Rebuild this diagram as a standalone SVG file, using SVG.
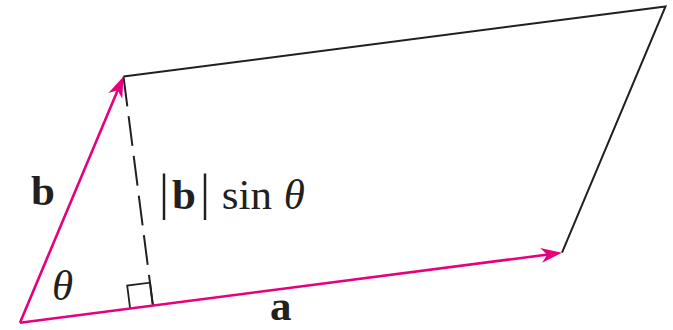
<svg xmlns="http://www.w3.org/2000/svg" width="673" height="330" viewBox="0 0 673 330">
<style>
.vec{stroke:#e6007e;stroke-width:2.6;fill:none;marker-end:url(#ah)}
.edge{stroke:#231f20;stroke-width:2;fill:none;stroke-linejoin:miter}
.dash{stroke:#231f20;stroke-width:2;fill:none;stroke-dasharray:30 10}
.lbl{font-family:"Liberation Serif","Times New Roman",serif;font-size:43px;fill:#231f20}
.bold{font-weight:bold}
.ital{font-style:italic}
</style>
<defs>
<marker id="ah" viewBox="-22 -8 24 16" markerWidth="24" markerHeight="16" refX="-10" refY="0" markerUnits="userSpaceOnUse" orient="auto">
<path d="M0,0 L-21,-7.5 L-15,0 L-21,7.5 Z" fill="#e6007e"/>
</marker>
</defs>
<rect width="673" height="330" fill="#ffffff"/>
<g id="connectors">
<path class="edge" d="M123.5,76.5 L665.5,6.5 L562,252.7"/>
<line class="dash" x1="123.5" y1="76.5" x2="152.9" y2="305.5"/>
<polyline class="edge" style="stroke-width:1.8" points="130.1,308.4 127.2,285.6 150,282.7 152.9,305.5"/>
<line id="vec-a" class="vec" x1="20" y1="322.7" x2="552.1" y2="254.0"/>
<line id="vec-b" class="vec" x1="20" y1="322.7" x2="119.6" y2="85.7"/>
</g>
<g id="label-b"><text class="lbl bold" x="31" y="205">b</text></g>
<g id="label-theta"><text class="lbl ital" x="52" y="300">θ</text></g>
<g id="label-a"><text class="lbl bold" x="270" y="320">a</text></g>
<g id="label-height"><text class="lbl" y="209"><tspan x="159" y="209" style="font-size:50px">|</tspan><tspan x="172" y="209" class="bold">b</tspan><tspan x="200" y="209" style="font-size:50px">|</tspan><tspan x="211" y="209"> sin</tspan><tspan x="273" y="209" class="ital"> θ</tspan></text></g>
</svg>
